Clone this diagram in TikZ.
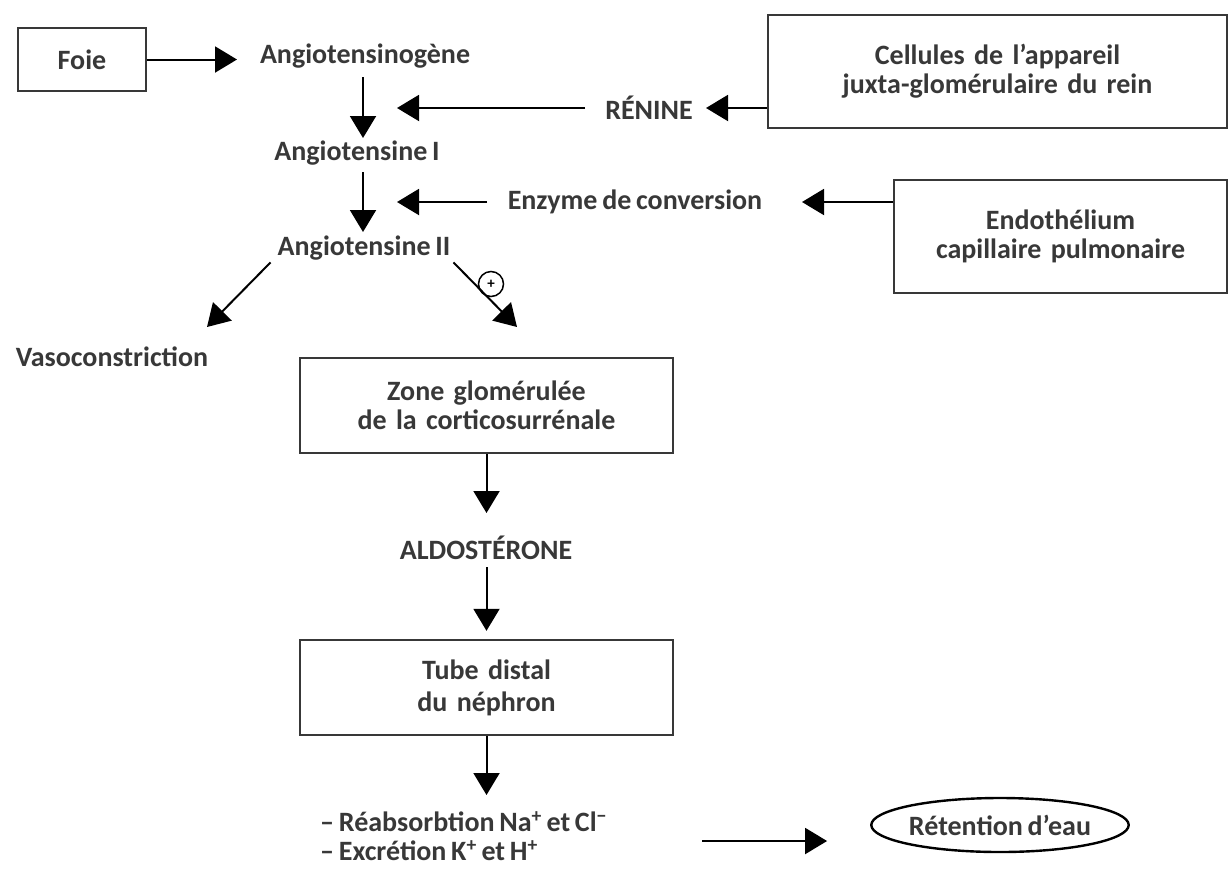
\documentclass[tikz,border=0pt]{standalone}
\usepackage{fontspec}
\setmainfont{Carlito}[WordSpace=0.75]
\usetikzlibrary{arrows.meta,shapes.geometric,calc}
\definecolor{ink}{gray}{0.22}
\tikzset{
  txt/.style={font=\fontsize{28}{29}\selectfont\bfseries, text=ink, inner sep=2pt},
  box/.style={txt, draw=ink, line width=2.4pt, align=center},
  arr/.style={line width=2pt, draw=black, -{Triangle[length=22pt,width=26pt]}},
}
\begin{document}
\begin{tikzpicture}[x=1pt,y=-1pt]
\useasboundingbox[fill=white] (0,0) rectangle (1228,868);
% nodes
\node[box, minimum width=128pt, minimum height=63pt] (foie) at (82,59.5) {Foie};
\node[txt] (agn) at (365,56) {Angiotensinogène};
\node[txt] (a1) at (357,153) {Angiotensine I};
\node[txt] (a2) at (364,248) {Angiotensine II};
\node[txt] (ren) at (649,108) {RÉNINE};
\node[box, minimum width=459pt, minimum height=113pt, text width=440pt] (cell) at (997.5,71.5) {Cellules de l'appareil\\juxta-glomérulaire du rein};
\node[txt] (enz) at (635,202) {Enzyme de conversion};
\node[box, minimum width=333pt, minimum height=113pt, text width=320pt] (endo) at (1060.5,236.5) {Endothélium\\capillaire pulmonaire};
\node[txt] (vaso) at (112,357) {Vasoconstriction};
\node[box, minimum width=373pt, minimum height=95pt, text width=360pt] (zone) at (486.5,405.5) {Zone glomérulée\\de la corticosurrénale};
\node[txt] (aldo) at (486,548) {ALDOSTÉRONE};
\node[box, minimum width=373pt, minimum height=95pt, text width=360pt, font=\fontsize{28}{32}\selectfont\bfseries] (tube) at (486.5,687.5) {Tube distal\\du néphron};
\node[txt, anchor=west, align=left, inner sep=0pt, font=\fontsize{28}{29}\selectfont\bfseries] (list) at (320,836) {– Réabsorbtion Na\textsuperscript{+} et Cl\textsuperscript{−}\\– Excrétion K\textsuperscript{+} et H\textsuperscript{+}};
\node[txt, draw=black, line width=2.4pt, ellipse, minimum width=254pt, minimum height=54pt, inner sep=0pt] (ret) at (1000,825) {Rétention d'eau};
\node[draw=black, line width=1.5pt, circle, minimum size=25pt, inner sep=0pt, font=\fontsize{15}{15}\selectfont\bfseries] (plus) at (491,284) {+};
% helper column and free ends
\coordinate (ax) at (363,0);
\coordinate (vt) at (207,327);
\coordinate (zt) at (517,327);
% connectors
\draw[arr, shorten >=128pt] (foie.east) -- (foie.east -| agn.center);
\draw[arr, shorten <=21pt, shorten >=15pt] (agn.center -| ax) -- (a1.center -| ax);
\draw[arr, shorten <=19pt, shorten >=16pt] (a1.center -| ax) -- (a2.center -| ax);
\draw[arr, shorten <=64pt, shorten >=34pt] (ren.center) -- (ren.center -| ax);
\draw[arr, shorten >=57pt] (cell.west |- ren.center) -- (ren.center);
\draw[arr, shorten <=148pt, shorten >=34pt] (enz.center) -- (enz.center -| ax);
\draw[arr, shorten >=167pt] (endo.west |- enz.center) -- (enz.center);
\draw[arr] ($(a2.south west)+(-5,0)$) -- (vt);
\draw[arr] ($(a2.south east)+(1,0)$) -- (zt);
\draw[arr, shorten >=35pt] (zone.south) -- (zone.south |- aldo.center);
\draw[arr, shorten <=19pt, shorten >=8pt] (zone.south |- aldo.center) -- (tube.north);
\draw[arr, shorten >=41pt] (tube.south) -- (tube.south |- list.center);
\draw[arr, shorten <=95pt, shorten >=43pt] ($(list.east)+(0,5)$) -- ($(list.east -| ret.west)+(0,5)$);
\end{tikzpicture}
\end{document}
